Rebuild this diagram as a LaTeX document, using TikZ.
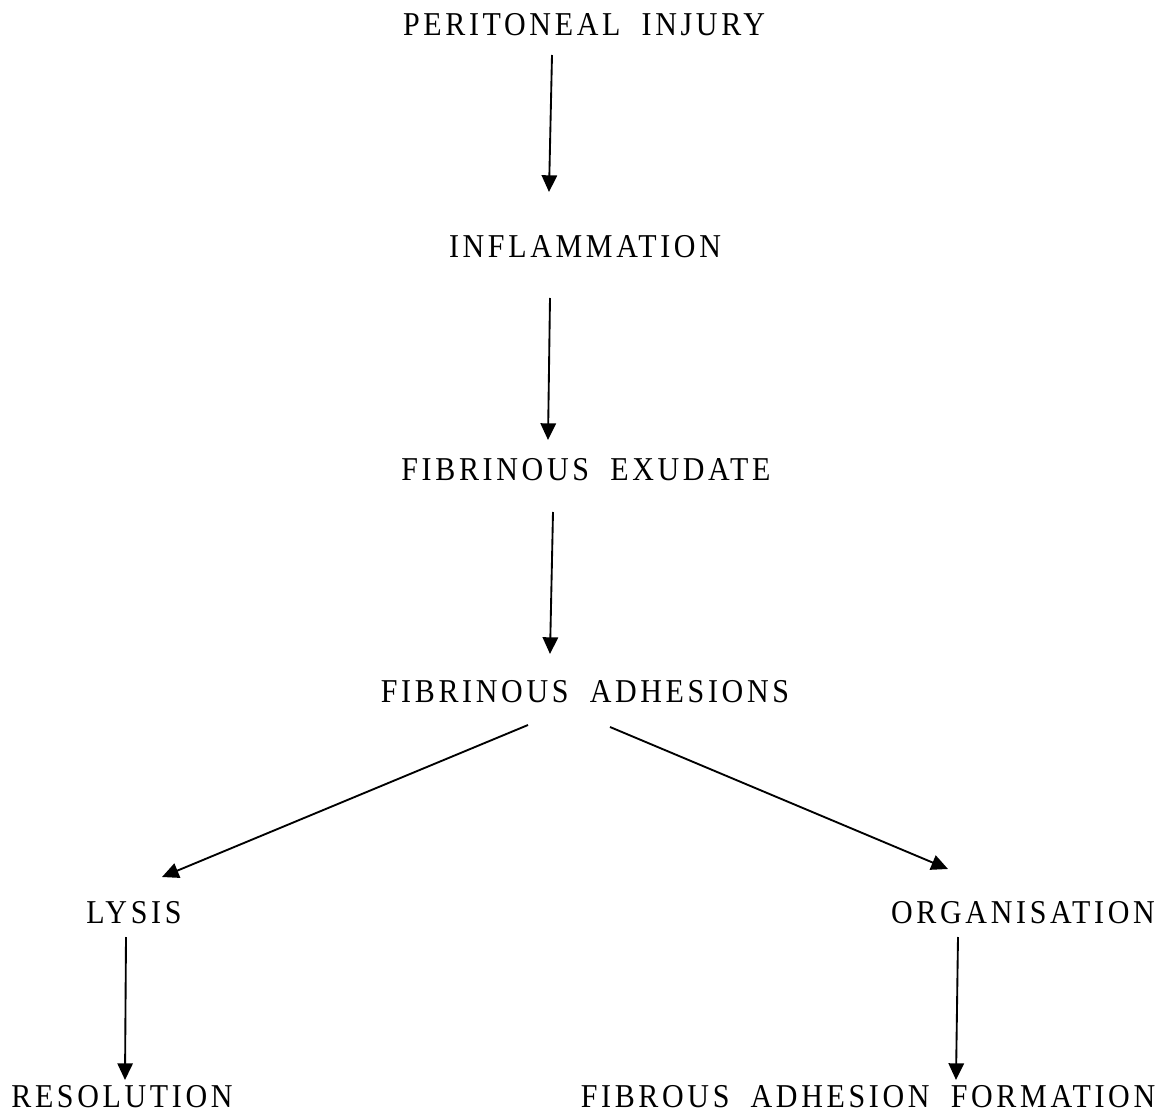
\documentclass[tikz,border=0pt]{standalone}
\usepackage{fontspec}
\setmainfont{Liberation Serif}[FakeStretch=0.9,LetterSpace=11,WordSpace=1.9]
\usetikzlibrary{arrows.meta,calc}
\begin{document}
\begin{tikzpicture}[x=0.75pt,y=-0.75pt,
  lbl/.style={inner sep=0pt,anchor=base,font=\fontsize{25}{30}\selectfont},
  arr/.style={line width=1.4pt,-{Triangle[length=12.5pt,width=11.5pt]}}]
\useasboundingbox[fill=white] (0,0) rectangle (1168,1112);
\node[lbl] (a) at (584,36) {PERITONEAL INJURY};
\node[lbl] (b) at (585,258) {INFLAMMATION};
\node[lbl] (c) at (586,481) {FIBRINOUS EXUDATE};
\node[lbl] (d) at (585,702) {FIBRINOUS ADHESIONS};
\node[lbl] (e) at (134,923) {LYSIS};
\node[lbl] (f) at (1023,923) {ORGANISATION};
\node[lbl] (g) at (122,1107) {RESOLUTION};
\node[lbl] (h) at (868,1107) {FIBROUS ADHESION FORMATION};
\draw[arr] ($(a.base)+(-32,19)$) -- ($(b.base)+(-36,-66)$);
\draw[arr] ($(b.base)+(-35,40)$) -- ($(c.base)+(-38,-41)$);
\draw[arr] ($(c.base)+(-33,31)$) -- ($(d.base)+(-35,-48)$);
\draw[arr] ($(d.base)+(-57,23)$) -- ($(e.base)+(28,-46)$);
\draw[arr] ($(d.base)+(25,25)$) -- ($(f.base)+(-75,-54)$);
\draw[arr] ($(e.base)+(-8,14)$) -- ($(g.base)+(3,-27)$);
\draw[arr] ($(f.base)+(-65,14)$) -- ($(h.base)+(88,-27)$);
\end{tikzpicture}
\end{document}
